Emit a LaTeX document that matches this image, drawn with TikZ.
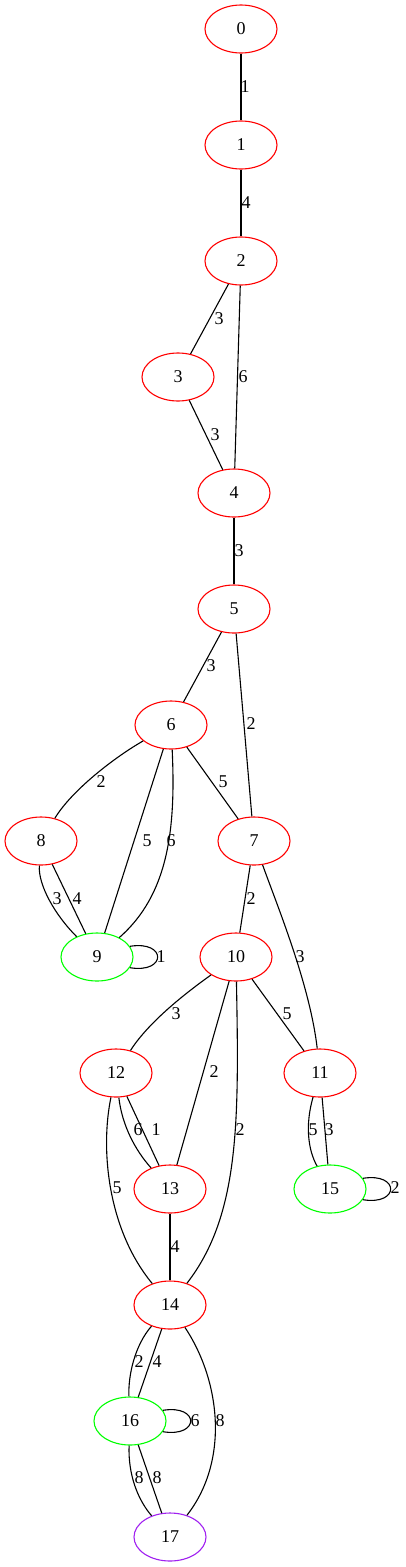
\documentclass[tikz,border=0pt]{standalone}
\usepackage{fontspec}
\setmainfont{Liberation Serif}
\usetikzlibrary{shapes.geometric}
\definecolor{gvred}{HTML}{FF0000}
\definecolor{gvgreen}{HTML}{00FF00}
\definecolor{gvpurple}{HTML}{A020F0}
\begin{document}
\begin{tikzpicture}[x=1pt,y=-1pt,
  vtx/.style={ellipse,draw,line width=1.1pt,minimum width=72pt,minimum height=48pt,inner sep=0pt,font=\fontsize{18}{20}\selectfont},
  rv/.style={vtx,draw=gvred},
  gv/.style={vtx,draw=gvgreen},
  pv/.style={vtx,draw=gvpurple},
  lbl/.style={inner sep=0pt,font=\fontsize{18}{20}\selectfont},
  edge/.style={line width=1.1pt}]
\useasboundingbox (0,0) rectangle (405,1567);
% nodes
\node[rv] (n0) at (241,29) {0};
\node[rv] (n1) at (241,145) {1};
\node[rv] (n2) at (241,261) {2};
\node[rv] (n3) at (178,377) {3};
\node[rv] (n4) at (234,493) {4};
\node[rv] (n5) at (234,609) {5};
\node[rv] (n6) at (171,725) {6};
\node[rv] (n7) at (254,841) {7};
\node[rv] (n8) at (41,841) {8};
\node[gv] (n9) at (97,957) {9};
\node[rv] (n10) at (236,957) {10};
\node[rv] (n11) at (320,1073) {11};
\node[rv] (n12) at (116,1073) {12};
\node[rv] (n13) at (170,1189) {13};
\node[gv] (n15) at (330,1189) {15};
\node[rv] (n14) at (170,1305) {14};
\node[gv] (n16) at (130,1421) {16};
\node[pv] (n17) at (170,1537) {17};
% edges
\draw[edge] (n0) -- (n1);
\draw[edge] (n1) -- (n2);
\draw[edge] (n2) -- (n3);
\draw[edge] (n2) -- (n4);
\draw[edge] (n3) -- (n4);
\draw[edge] (n4) -- (n5);
\draw[edge] (n5) -- (n6);
\draw[edge] (n5) -- (n7);
\draw[edge] (n6) .. controls (115,757) and (72,790) .. (n8);
\draw[edge] (n6) -- (n7);
\draw[edge] (n6) -- (n9);
\draw[edge] (n6) .. controls (176,830) and (168,895) .. (n9);
\draw[edge] (n8) .. controls (38,885) and (55,915) .. (n9);
\draw[edge] (n8) -- (n9);
\draw[edge] (n9.18) .. controls +(37,-6) and +(37,6) .. (n9.-18);
\draw[edge] (n7) -- (n10);
\draw[edge] (n7) .. controls (277,905) and (310,985) .. (n11);
\draw[edge] (n10) .. controls (190,990) and (150,1020) .. (n12);
\draw[edge] (n10) -- (n11);
\draw[edge] (n10) -- (n13);
\draw[edge] (n10) .. controls (239,1120) and (240,1215) .. (n14);
\draw[edge] (n12) .. controls (122,1125) and (135,1150) .. (n13);
\draw[edge] (n12) -- (n13);
\draw[edge] (n12) .. controls (100,1150) and (108,1230) .. (n14);
\draw[edge] (n11) .. controls (305,1125) and (308,1150) .. (n15);
\draw[edge] (n11) -- (n15);
\draw[edge] (n15.18) .. controls +(37,-6) and +(37,6) .. (n15.-18);
\draw[edge] (n13) -- (n14);
\draw[edge] (n14) .. controls (135,1345) and (128,1375) .. (n16);
\draw[edge] (n14) -- (n16);
\draw[edge] (n14) .. controls (220,1380) and (230,1460) .. (n17);
\draw[edge] (n16.18) .. controls +(37,-6) and +(37,6) .. (n16.-18);
\draw[edge] (n16) .. controls (128,1475) and (138,1500) .. (n17);
\draw[edge] (n16) -- (n17);
% labels
\node[lbl] (l0) at (245,87) {1};
\node[lbl] (l1) at (246,203) {4};
\node[lbl] (l2) at (219,319) {3};
\node[lbl] (l3) at (243,377) {6};
\node[lbl] (l4) at (215,435) {3};
\node[lbl] (l5) at (239,551) {3};
\node[lbl] (l6) at (211,666) {3};
\node[lbl] (l7) at (251,724) {2};
\node[lbl] (l8) at (101,782) {2};
\node[lbl] (l9) at (223,782) {5};
\node[lbl] (l10) at (147,841) {5};
\node[lbl] (l11) at (171,841) {6};
\node[lbl] (l12) at (57,899) {3};
\node[lbl] (l13) at (77,899) {4};
\node[lbl] (l14) at (161,957) {1};
\node[lbl] (l15) at (251,899) {2};
\node[lbl] (l16) at (300,957) {3};
\node[lbl] (l17) at (176,1014) {3};
\node[lbl] (l18) at (287,1014) {5};
\node[lbl] (l19) at (214,1072) {2};
\node[lbl] (l20) at (240,1130) {2};
\node[lbl] (l21) at (138,1130) {6};
\node[lbl] (l22) at (156,1130) {1};
\node[lbl] (l23) at (117,1188) {5};
\node[lbl] (l24) at (313,1130) {5};
\node[lbl] (l25) at (329,1130) {3};
\node[lbl] (l26) at (395,1188) {2};
\node[lbl] (l27) at (175,1247) {4};
\node[lbl] (l28) at (139,1362) {2};
\node[lbl] (l29) at (157,1362) {4};
\node[lbl] (l30) at (195,1421) {6};
\node[lbl] (l31) at (220,1421) {8};
\node[lbl] (l32) at (139,1478) {8};
\node[lbl] (l33) at (157,1478) {8};
\end{tikzpicture}
\end{document}
